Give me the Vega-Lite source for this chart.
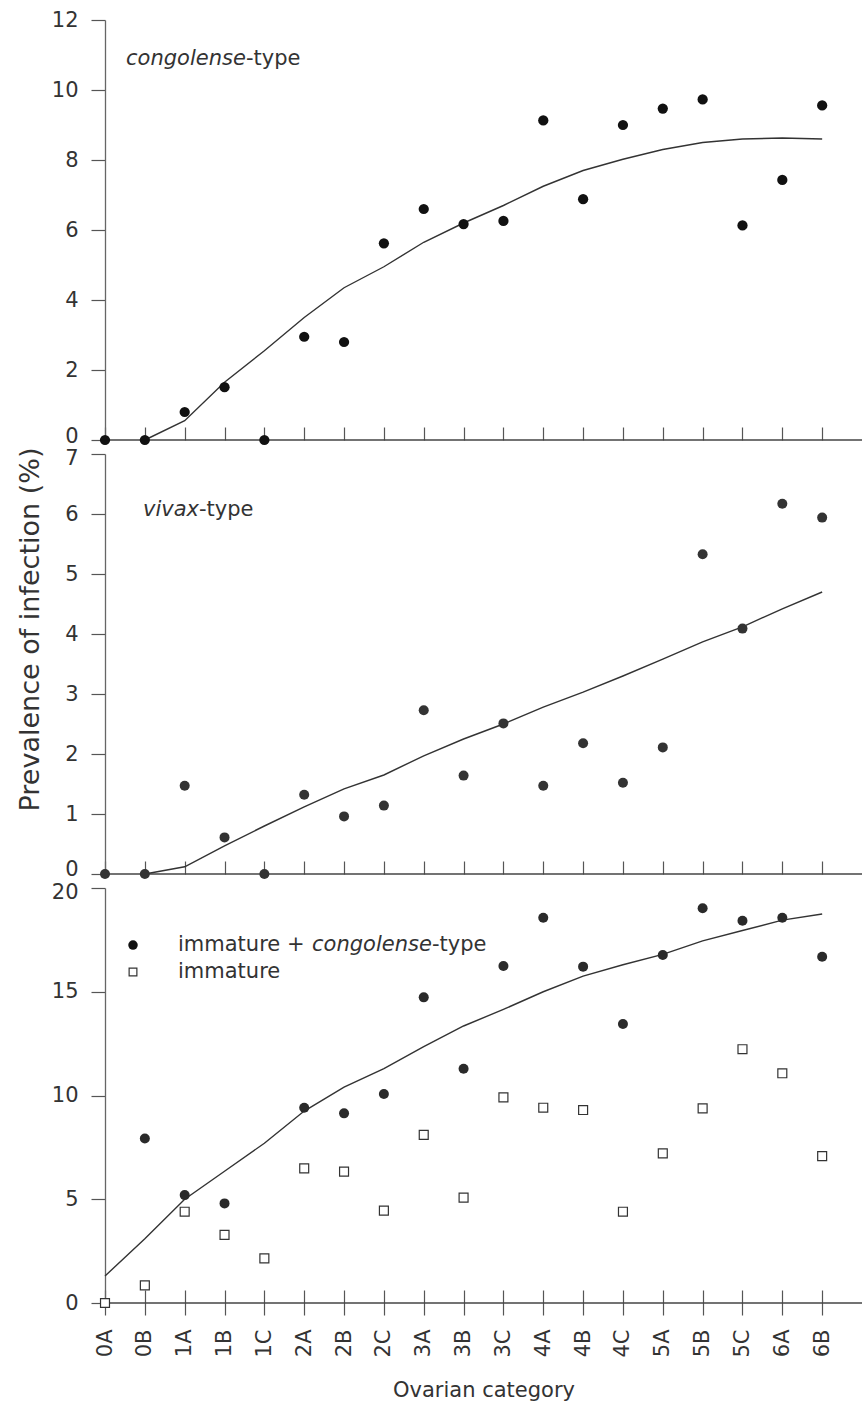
{
  "$schema": "https://vega.github.io/schema/vega-lite/v6.json",
  "padding": {"left": 16, "top": 9, "right": 0, "bottom": 4},
  "bounds": "flush",
  "spacing": 14,
  "config": {
    "view": {"stroke": null},
    "font": "DejaVu Sans",
    "axis": {
      "grid": false,
      "labelFont": "DejaVu Sans",
      "labelFontSize": 21,
      "labelColor": "#333",
      "domainColor": "#666",
      "domainWidth": 1.3,
      "tickColor": "#555",
      "tickWidth": 1.2,
      "titleFont": "DejaVu Sans",
      "titleFontWeight": "normal",
      "titleColor": "#333",
      "labelOverlap": false,
      "labelBound": false
    },
    "text": {"font": "DejaVu Sans", "fontSize": 21, "color": "#333"}
  },
  "datasets": {
    "prevalence": [
      {"panel": "congolense", "series": "observed", "cat": "0A", "value": 0},
      {"panel": "congolense", "series": "observed", "cat": "0B", "value": 0},
      {"panel": "congolense", "series": "observed", "cat": "1A", "value": 0.8},
      {"panel": "congolense", "series": "observed", "cat": "1B", "value": 1.51},
      {"panel": "congolense", "series": "observed", "cat": "1C", "value": 0},
      {"panel": "congolense", "series": "observed", "cat": "2A", "value": 2.95},
      {"panel": "congolense", "series": "observed", "cat": "2B", "value": 2.8},
      {"panel": "congolense", "series": "observed", "cat": "2C", "value": 5.62},
      {"panel": "congolense", "series": "observed", "cat": "3A", "value": 6.6},
      {"panel": "congolense", "series": "observed", "cat": "3B", "value": 6.17},
      {"panel": "congolense", "series": "observed", "cat": "3C", "value": 6.26},
      {"panel": "congolense", "series": "observed", "cat": "4A", "value": 9.13},
      {"panel": "congolense", "series": "observed", "cat": "4B", "value": 6.88},
      {"panel": "congolense", "series": "observed", "cat": "4C", "value": 9.0},
      {"panel": "congolense", "series": "observed", "cat": "5A", "value": 9.47},
      {"panel": "congolense", "series": "observed", "cat": "5B", "value": 9.73},
      {"panel": "congolense", "series": "observed", "cat": "5C", "value": 6.13},
      {"panel": "congolense", "series": "observed", "cat": "6A", "value": 7.43},
      {"panel": "congolense", "series": "observed", "cat": "6B", "value": 9.56},

      {"panel": "congolense", "series": "fit", "cat": "0B", "value": 0},
      {"panel": "congolense", "series": "fit", "cat": "1A", "value": 0.55},
      {"panel": "congolense", "series": "fit", "cat": "1B", "value": 1.65},
      {"panel": "congolense", "series": "fit", "cat": "1C", "value": 2.55},
      {"panel": "congolense", "series": "fit", "cat": "2A", "value": 3.5},
      {"panel": "congolense", "series": "fit", "cat": "2B", "value": 4.35},
      {"panel": "congolense", "series": "fit", "cat": "2C", "value": 4.95},
      {"panel": "congolense", "series": "fit", "cat": "3A", "value": 5.65},
      {"panel": "congolense", "series": "fit", "cat": "3B", "value": 6.2},
      {"panel": "congolense", "series": "fit", "cat": "3C", "value": 6.7},
      {"panel": "congolense", "series": "fit", "cat": "4A", "value": 7.25},
      {"panel": "congolense", "series": "fit", "cat": "4B", "value": 7.7},
      {"panel": "congolense", "series": "fit", "cat": "4C", "value": 8.02},
      {"panel": "congolense", "series": "fit", "cat": "5A", "value": 8.3},
      {"panel": "congolense", "series": "fit", "cat": "5B", "value": 8.5},
      {"panel": "congolense", "series": "fit", "cat": "5C", "value": 8.6},
      {"panel": "congolense", "series": "fit", "cat": "6A", "value": 8.63},
      {"panel": "congolense", "series": "fit", "cat": "6B", "value": 8.6},

      {"panel": "vivax", "series": "observed", "cat": "0A", "value": 0},
      {"panel": "vivax", "series": "observed", "cat": "0B", "value": 0},
      {"panel": "vivax", "series": "observed", "cat": "1A", "value": 1.47},
      {"panel": "vivax", "series": "observed", "cat": "1B", "value": 0.61},
      {"panel": "vivax", "series": "observed", "cat": "1C", "value": 0},
      {"panel": "vivax", "series": "observed", "cat": "2A", "value": 1.32},
      {"panel": "vivax", "series": "observed", "cat": "2B", "value": 0.96},
      {"panel": "vivax", "series": "observed", "cat": "2C", "value": 1.14},
      {"panel": "vivax", "series": "observed", "cat": "3A", "value": 2.73},
      {"panel": "vivax", "series": "observed", "cat": "3B", "value": 1.64},
      {"panel": "vivax", "series": "observed", "cat": "3C", "value": 2.51},
      {"panel": "vivax", "series": "observed", "cat": "4A", "value": 1.47},
      {"panel": "vivax", "series": "observed", "cat": "4B", "value": 2.18},
      {"panel": "vivax", "series": "observed", "cat": "4C", "value": 1.52},
      {"panel": "vivax", "series": "observed", "cat": "5A", "value": 2.11},
      {"panel": "vivax", "series": "observed", "cat": "5B", "value": 5.33},
      {"panel": "vivax", "series": "observed", "cat": "5C", "value": 4.09},
      {"panel": "vivax", "series": "observed", "cat": "6A", "value": 6.17},
      {"panel": "vivax", "series": "observed", "cat": "6B", "value": 5.94},

      {"panel": "vivax", "series": "fit", "cat": "0B", "value": 0},
      {"panel": "vivax", "series": "fit", "cat": "1A", "value": 0.12},
      {"panel": "vivax", "series": "fit", "cat": "1B", "value": 0.47},
      {"panel": "vivax", "series": "fit", "cat": "1C", "value": 0.8},
      {"panel": "vivax", "series": "fit", "cat": "2A", "value": 1.12},
      {"panel": "vivax", "series": "fit", "cat": "2B", "value": 1.42},
      {"panel": "vivax", "series": "fit", "cat": "2C", "value": 1.65},
      {"panel": "vivax", "series": "fit", "cat": "3A", "value": 1.97},
      {"panel": "vivax", "series": "fit", "cat": "3B", "value": 2.25},
      {"panel": "vivax", "series": "fit", "cat": "3C", "value": 2.5},
      {"panel": "vivax", "series": "fit", "cat": "4A", "value": 2.78},
      {"panel": "vivax", "series": "fit", "cat": "4B", "value": 3.03},
      {"panel": "vivax", "series": "fit", "cat": "4C", "value": 3.3},
      {"panel": "vivax", "series": "fit", "cat": "5A", "value": 3.58},
      {"panel": "vivax", "series": "fit", "cat": "5B", "value": 3.87},
      {"panel": "vivax", "series": "fit", "cat": "5C", "value": 4.12},
      {"panel": "vivax", "series": "fit", "cat": "6A", "value": 4.42},
      {"panel": "vivax", "series": "fit", "cat": "6B", "value": 4.7},

      {"panel": "immature", "series": "immature + congolense-type", "cat": "0B", "value": 7.93},
      {"panel": "immature", "series": "immature + congolense-type", "cat": "1A", "value": 5.2},
      {"panel": "immature", "series": "immature + congolense-type", "cat": "1B", "value": 4.8},
      {"panel": "immature", "series": "immature + congolense-type", "cat": "2A", "value": 9.41},
      {"panel": "immature", "series": "immature + congolense-type", "cat": "2B", "value": 9.14},
      {"panel": "immature", "series": "immature + congolense-type", "cat": "2C", "value": 10.07},
      {"panel": "immature", "series": "immature + congolense-type", "cat": "3A", "value": 14.73},
      {"panel": "immature", "series": "immature + congolense-type", "cat": "3B", "value": 11.29},
      {"panel": "immature", "series": "immature + congolense-type", "cat": "3C", "value": 16.24},
      {"panel": "immature", "series": "immature + congolense-type", "cat": "4A", "value": 18.57},
      {"panel": "immature", "series": "immature + congolense-type", "cat": "4B", "value": 16.21},
      {"panel": "immature", "series": "immature + congolense-type", "cat": "4C", "value": 13.45},
      {"panel": "immature", "series": "immature + congolense-type", "cat": "5A", "value": 16.77},
      {"panel": "immature", "series": "immature + congolense-type", "cat": "5B", "value": 19.02},
      {"panel": "immature", "series": "immature + congolense-type", "cat": "5C", "value": 18.42},
      {"panel": "immature", "series": "immature + congolense-type", "cat": "6A", "value": 18.57},
      {"panel": "immature", "series": "immature + congolense-type", "cat": "6B", "value": 16.69},

      {"panel": "immature", "series": "immature", "cat": "0A", "value": 0},
      {"panel": "immature", "series": "immature", "cat": "0B", "value": 0.85},
      {"panel": "immature", "series": "immature", "cat": "1A", "value": 4.4},
      {"panel": "immature", "series": "immature", "cat": "1B", "value": 3.28},
      {"panel": "immature", "series": "immature", "cat": "1C", "value": 2.15},
      {"panel": "immature", "series": "immature", "cat": "2A", "value": 6.49},
      {"panel": "immature", "series": "immature", "cat": "2B", "value": 6.33},
      {"panel": "immature", "series": "immature", "cat": "2C", "value": 4.45},
      {"panel": "immature", "series": "immature", "cat": "3A", "value": 8.1},
      {"panel": "immature", "series": "immature", "cat": "3B", "value": 5.08},
      {"panel": "immature", "series": "immature", "cat": "3C", "value": 9.91},
      {"panel": "immature", "series": "immature", "cat": "4A", "value": 9.41},
      {"panel": "immature", "series": "immature", "cat": "4B", "value": 9.3},
      {"panel": "immature", "series": "immature", "cat": "4C", "value": 4.4},
      {"panel": "immature", "series": "immature", "cat": "5A", "value": 7.21},
      {"panel": "immature", "series": "immature", "cat": "5B", "value": 9.38},
      {"panel": "immature", "series": "immature", "cat": "5C", "value": 12.23},
      {"panel": "immature", "series": "immature", "cat": "6A", "value": 11.07},
      {"panel": "immature", "series": "immature", "cat": "6B", "value": 7.08},

      {"panel": "immature", "series": "fit", "cat": "0A", "value": 1.3},
      {"panel": "immature", "series": "fit", "cat": "0B", "value": 3.1},
      {"panel": "immature", "series": "fit", "cat": "1A", "value": 5.0},
      {"panel": "immature", "series": "fit", "cat": "1B", "value": 6.35},
      {"panel": "immature", "series": "fit", "cat": "1C", "value": 7.7},
      {"panel": "immature", "series": "fit", "cat": "2A", "value": 9.25},
      {"panel": "immature", "series": "fit", "cat": "2B", "value": 10.4},
      {"panel": "immature", "series": "fit", "cat": "2C", "value": 11.3},
      {"panel": "immature", "series": "fit", "cat": "3A", "value": 12.35},
      {"panel": "immature", "series": "fit", "cat": "3B", "value": 13.35},
      {"panel": "immature", "series": "fit", "cat": "3C", "value": 14.15},
      {"panel": "immature", "series": "fit", "cat": "4A", "value": 15.0},
      {"panel": "immature", "series": "fit", "cat": "4B", "value": 15.75},
      {"panel": "immature", "series": "fit", "cat": "4C", "value": 16.3},
      {"panel": "immature", "series": "fit", "cat": "5A", "value": 16.8},
      {"panel": "immature", "series": "fit", "cat": "5B", "value": 17.45},
      {"panel": "immature", "series": "fit", "cat": "5C", "value": 17.95},
      {"panel": "immature", "series": "fit", "cat": "6A", "value": 18.45},
      {"panel": "immature", "series": "fit", "cat": "6B", "value": 18.75}
    ]
  },
  "vconcat": [
    {
      "width": 757,
      "height": 420,
      "layer": [
        {
          "data": {"values": [{}]},
          "mark": {"type": "rule", "color": "#444", "strokeWidth": 1.7},
          "encoding": {
            "x": {"datum": "0A", "type": "ordinal",
              "scale": {"type": "point", "padding": 0,
                "domain": ["0A","0B","1A","1B","1C","2A","2B","2C","3A","3B","3C","4A","4B","4C","5A","5B","5C","6A","6B","end"]}},
            "x2": {"datum": "end"},
            "y": {"datum": 0, "type": "quantitative", "scale": {"domain": [0, 12], "nice": false}}
          }
        },
        {
          "data": {"name": "prevalence"},
          "transform": [{"filter": "datum.panel === 'congolense' && datum.series === 'fit'"}],
          "mark": {"type": "line", "color": "#333", "strokeWidth": 1.4},
          "encoding": {
            "x": {
              "field": "cat", "type": "ordinal",
              "axis": {"title": null, "labels": false, "domain": false, "offset": -13, "tickSize": 13,
                "values": ["0A","0B","1A","1B","1C","2A","2B","2C","3A","3B","3C","4A","4B","4C","5A","5B","5C","6A","6B"]}
            },
            "y": {
              "field": "value", "type": "quantitative",
              "axis": {"title": null, "format": "d", "values": [0,2,4,6,8,10,12], "tickSize": 14, "labelPadding": 13,
                "labelOffset": {"condition": {"test": "datum.value === 0", "value": -4}, "value": 0}}
            }
          }
        },
        {
          "data": {"name": "prevalence"},
          "transform": [{"filter": "datum.panel === 'congolense' && datum.series === 'observed'"}],
          "mark": {"type": "point", "shape": "circle", "filled": true, "size": 105, "color": "#111", "opacity": 1},
          "encoding": {"x": {"field": "cat", "type": "ordinal"}, "y": {"field": "value", "type": "quantitative"}}
        },
        {
          "data": {"values": [{}]},
          "mark": {"type": "text", "text": "congolense", "fontStyle": "italic", "align": "left", "baseline": "alphabetic", "dx": 21},
          "encoding": {"x": {"datum": "0A", "type": "ordinal"}, "y": {"datum": 10.71, "type": "quantitative"}}
        },
        {
          "data": {"values": [{}]},
          "mark": {"type": "text", "text": "-type", "align": "left", "baseline": "alphabetic", "dx": 141},
          "encoding": {"x": {"datum": "0A", "type": "ordinal"}, "y": {"datum": 10.71, "type": "quantitative"}}
        }
      ]
    },
    {
      "width": 757,
      "height": 420,
      "layer": [
        {
          "data": {"values": [{}]},
          "mark": {"type": "rule", "color": "#444", "strokeWidth": 1.7},
          "encoding": {
            "x": {"datum": "0A", "type": "ordinal",
              "scale": {"type": "point", "padding": 0,
                "domain": ["0A","0B","1A","1B","1C","2A","2B","2C","3A","3B","3C","4A","4B","4C","5A","5B","5C","6A","6B","end"]}},
            "x2": {"datum": "end"},
            "y": {"datum": 0, "type": "quantitative", "scale": {"domain": [0, 7], "nice": false}}
          }
        },
        {
          "data": {"name": "prevalence"},
          "transform": [{"filter": "datum.panel === 'vivax' && datum.series === 'fit'"}],
          "mark": {"type": "line", "color": "#333", "strokeWidth": 1.4},
          "encoding": {
            "x": {
              "field": "cat", "type": "ordinal",
              "axis": {"title": null, "labels": false, "domain": false, "offset": -13, "tickSize": 13,
                "values": ["0A","0B","1A","1B","1C","2A","2B","2C","3A","3B","3C","4A","4B","4C","5A","5B","5C","6A","6B"]}
            },
            "y": {
              "field": "value", "type": "quantitative",
              "axis": {"title": "Prevalence of infection (%)", "titleFontSize": 27, "titlePadding": 20,
                "titleY": 175, "titleAlign": "center", "format": "d",
                "values": [0,1,2,3,4,5,6,7], "tickSize": 14, "labelPadding": 13,
                "labelOffset": {"condition": [{"test": "datum.value === 7", "value": 4}, {"test": "datum.value === 0", "value": -5}], "value": 0}}
            }
          }
        },
        {
          "data": {"name": "prevalence"},
          "transform": [{"filter": "datum.panel === 'vivax' && datum.series === 'observed'"}],
          "mark": {"type": "point", "shape": "circle", "filled": true, "size": 100, "color": "#333", "opacity": 1},
          "encoding": {"x": {"field": "cat", "type": "ordinal"}, "y": {"field": "value", "type": "quantitative"}}
        },
        {
          "data": {"values": [{}]},
          "mark": {"type": "text", "text": "vivax", "fontStyle": "italic", "align": "left", "baseline": "alphabetic", "dx": 38},
          "encoding": {"x": {"datum": "0A", "type": "ordinal"}, "y": {"datum": 5.97, "type": "quantitative"}}
        },
        {
          "data": {"values": [{}]},
          "mark": {"type": "text", "text": "-type", "align": "left", "baseline": "alphabetic", "dx": 94},
          "encoding": {"x": {"datum": "0A", "type": "ordinal"}, "y": {"datum": 5.97, "type": "quantitative"}}
        }
      ]
    },
    {
      "width": 757,
      "height": 415,
      "layer": [
        {
          "data": {"values": [{}]},
          "mark": {"type": "rule", "color": "#444", "strokeWidth": 1.7},
          "encoding": {
            "x": {"datum": "0A", "type": "ordinal",
              "scale": {"type": "point", "padding": 0,
                "domain": ["0A","0B","1A","1B","1C","2A","2B","2C","3A","3B","3C","4A","4B","4C","5A","5B","5C","6A","6B","end"]}},
            "x2": {"datum": "end"},
            "y": {"datum": 0, "type": "quantitative", "scale": {"domain": [0, 20], "nice": false}}
          }
        },
        {
          "data": {"name": "prevalence"},
          "transform": [{"filter": "datum.panel === 'immature' && datum.series === 'fit'"}],
          "mark": {"type": "line", "color": "#333", "strokeWidth": 1.4},
          "encoding": {
            "x": {
              "field": "cat", "type": "ordinal",
              "axis": {"title": "Ovarian category", "titleFontSize": 21, "titlePadding": 22,
                "labelAngle": 270, "labelPadding": 14, "domain": false, "offset": -13, "tickSize": 25,
                "values": ["0A","0B","1A","1B","1C","2A","2B","2C","3A","3B","3C","4A","4B","4C","5A","5B","5C","6A","6B"]}
            },
            "y": {
              "field": "value", "type": "quantitative",
              "axis": {"title": null, "format": "d", "values": [0,5,10,15,20], "tickSize": 14, "labelPadding": 13,
                "labelOffset": {"condition": {"test": "datum.value === 20", "value": 4}, "value": 0}}
            }
          }
        },
        {
          "data": {"name": "prevalence"},
          "transform": [{"filter": "datum.panel === 'immature' && datum.series === 'immature + congolense-type'"}],
          "mark": {"type": "point", "shape": "circle", "filled": true, "size": 100, "color": "#2a2a2a", "opacity": 1},
          "encoding": {"x": {"field": "cat", "type": "ordinal"}, "y": {"field": "value", "type": "quantitative"}}
        },
        {
          "data": {"name": "prevalence"},
          "transform": [{"filter": "datum.panel === 'immature' && datum.series === 'immature'"}],
          "mark": {"type": "point", "shape": "square", "filled": true, "fill": "#fff", "stroke": "#333", "strokeWidth": 1.2, "size": 80, "opacity": 1},
          "encoding": {"x": {"field": "cat", "type": "ordinal"}, "y": {"field": "value", "type": "quantitative"}}
        },
        {
          "data": {"values": [{}]},
          "mark": {"type": "point", "shape": "circle", "filled": true, "size": 90, "color": "#111", "opacity": 1, "xOffset": 28},
          "encoding": {"x": {"datum": "0A", "type": "ordinal"}, "y": {"datum": 17.25, "type": "quantitative"}}
        },
        {
          "data": {"values": [{}]},
          "mark": {"type": "point", "shape": "square", "filled": true, "fill": "#fff", "stroke": "#333", "strokeWidth": 1.2, "size": 60, "opacity": 1, "xOffset": 28},
          "encoding": {"x": {"datum": "0A", "type": "ordinal"}, "y": {"datum": 15.95, "type": "quantitative"}}
        },
        {
          "data": {"values": [{}]},
          "mark": {"type": "text", "text": "immature + ", "align": "left", "baseline": "middle", "dx": 73},
          "encoding": {"x": {"datum": "0A", "type": "ordinal"}, "y": {"datum": 17.25, "type": "quantitative"}}
        },
        {
          "data": {"values": [{}]},
          "mark": {"type": "text", "text": "congolense", "fontStyle": "italic", "align": "left", "baseline": "middle", "dx": 207},
          "encoding": {"x": {"datum": "0A", "type": "ordinal"}, "y": {"datum": 17.25, "type": "quantitative"}}
        },
        {
          "data": {"values": [{}]},
          "mark": {"type": "text", "text": "-type", "align": "left", "baseline": "middle", "dx": 327},
          "encoding": {"x": {"datum": "0A", "type": "ordinal"}, "y": {"datum": 17.25, "type": "quantitative"}}
        },
        {
          "data": {"values": [{}]},
          "mark": {"type": "text", "text": "immature", "align": "left", "baseline": "middle", "dx": 73},
          "encoding": {"x": {"datum": "0A", "type": "ordinal"}, "y": {"datum": 15.95, "type": "quantitative"}}
        }
      ]
    }
  ]
}
